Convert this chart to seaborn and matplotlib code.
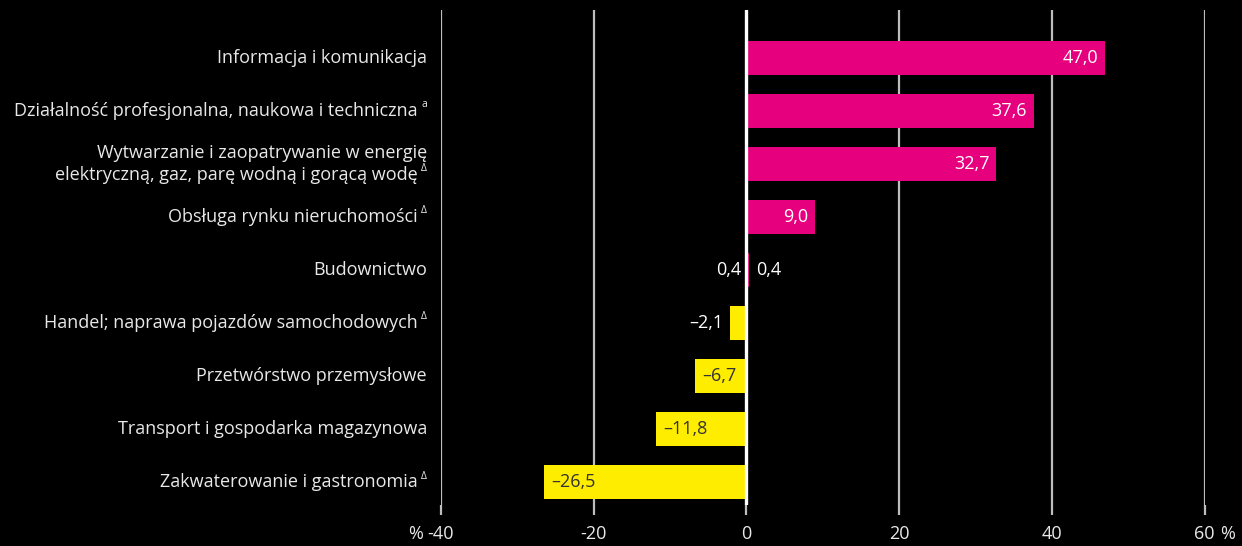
import matplotlib
matplotlib.use("Agg")
import matplotlib.pyplot as plt
import seaborn as sns
import pandas as pd

# =========================================================
# DATA
# =========================================================
categories = [
    "Informacja i komunikacja",
    "Działalność profesjonalna, naukowa i techniczna",
    "Wytwarzanie i zaopatrywanie w energię\nelektryczną, gaz, parę wodną i gorącą wodę",
    "Obsługa rynku nieruchomości",
    "Budownictwo",
    "Handel; naprawa pojazdów samochodowych",
    "Przetwórstwo przemysłowe",
    "Transport i gospodarka magazynowa",
    "Zakwaterowanie i gastronomia",
]
footnotes = ["", "a", "Δ", "Δ", "", "Δ", "", "", "Δ"]
values = [47.0, 37.6, 32.7, 9.0, 0.4, -2.1, -6.7, -11.8, -26.5]
x_ticks = [-40, -20, 0, 20, 40, 60]

PINK = "#e6007e"
YELLOW = "#ffed00"
BG = "#000000"
TXT = "#e8e8e8"
FS = 13

df = pd.DataFrame({"cat": categories, "val": values})
colors = [PINK if v >= 0 else YELLOW for v in values]

# =========================================================
# PLOT
# =========================================================
sns.set_theme(style="dark")
plt.rcParams["font.family"] = ["Open Sans", "DejaVu Sans"]
plt.rcParams["axes.unicode_minus"] = False

fig = plt.figure(figsize=(12.42, 5.46), dpi=100, facecolor=BG)
ax = fig.add_axes([0.355, 0.075, 0.615, 0.9066])
ax.set_facecolor(BG)

for x in x_ticks:
    if x != 0:
        ax.axvline(x, color="#bdbdbd", lw=1.6, zorder=0)

sns.barplot(data=df, x="val", y="cat", hue="cat", palette=colors,
            legend=False, width=0.64, saturation=1, linewidth=0,
            ax=ax, zorder=2)
ax.axvline(0, color="white", lw=2.4, zorder=3)

ax.set_xlim(-40, 60)
ax.set_ylim(8.43, -0.906)
ax.set_xticks(x_ticks)
ax.set_xticklabels([str(t) for t in x_ticks])
ax.tick_params(axis="x", bottom=True, colors="#bdbdbd", length=7.2, width=1.6,
               labelcolor=TXT, labelsize=FS, pad=7)
ax.set_yticks(range(len(categories)))
ax.set_yticklabels([])
ax.tick_params(axis="y", length=0)
ax.set_xlabel("")
ax.set_ylabel("")
for s in ax.spines.values():
    s.set_visible(False)
ax.grid(False)

# category labels with small superscript footnote marks
for i, (cat, fn) in enumerate(zip(categories, footnotes)):
    lines = cat.split("\n")
    n = len(lines)
    for j, line in enumerate(lines):
        dy = (n - 1) * 8 - j * 16
        last = j == n - 1
        off = -16.5 if (fn and last) else -10
        ax.annotate(line, xy=(0, i), xycoords=("axes fraction", "data"),
                    xytext=(off, dy), textcoords="offset points",
                    ha="right", va="center", color=TXT, fontsize=FS)
        if fn and last:
            ax.annotate(fn, xy=(0, i), xycoords=("axes fraction", "data"),
                        xytext=(-10, dy + 4.5), textcoords="offset points",
                        ha="right", va="center", color=TXT, fontsize=7.5)

# percent signs at ends of axis
ax.annotate("%", xy=(-40, 0), xycoords=("data", "axes fraction"),
            xytext=(-13, -20.5), textcoords="offset points", ha="right",
            va="center", color=TXT, fontsize=FS)
ax.annotate("%", xy=(60, 0), xycoords=("data", "axes fraction"),
            xytext=(11, -20.5), textcoords="offset points", ha="left",
            va="center", color=TXT, fontsize=FS)

# value labels
for i, v in enumerate(values):
    txt = f"{v:.1f}".replace(".", ",").replace("-", "–")
    kw = dict(textcoords="offset points", va="center", fontsize=FS, zorder=4)
    if v >= 5:
        ax.annotate(txt, (v, i), xytext=(-5, 0), ha="right", color="white", **kw)
    elif v >= 0:
        ax.annotate(txt, (v, i), xytext=(5, 0), ha="left", color="white", **kw)
        ax.annotate(txt, (0, i), xytext=(-4, 0), ha="right", color="white", **kw)
    elif v > -5:
        ax.annotate(txt, (v, i), xytext=(-5, 0), ha="right", color="white", **kw)
    else:
        ax.annotate(txt, (v, i), xytext=(5, 0), ha="left", color="#333333", **kw)

fig.savefig("out.png", dpi=100, facecolor=BG)
